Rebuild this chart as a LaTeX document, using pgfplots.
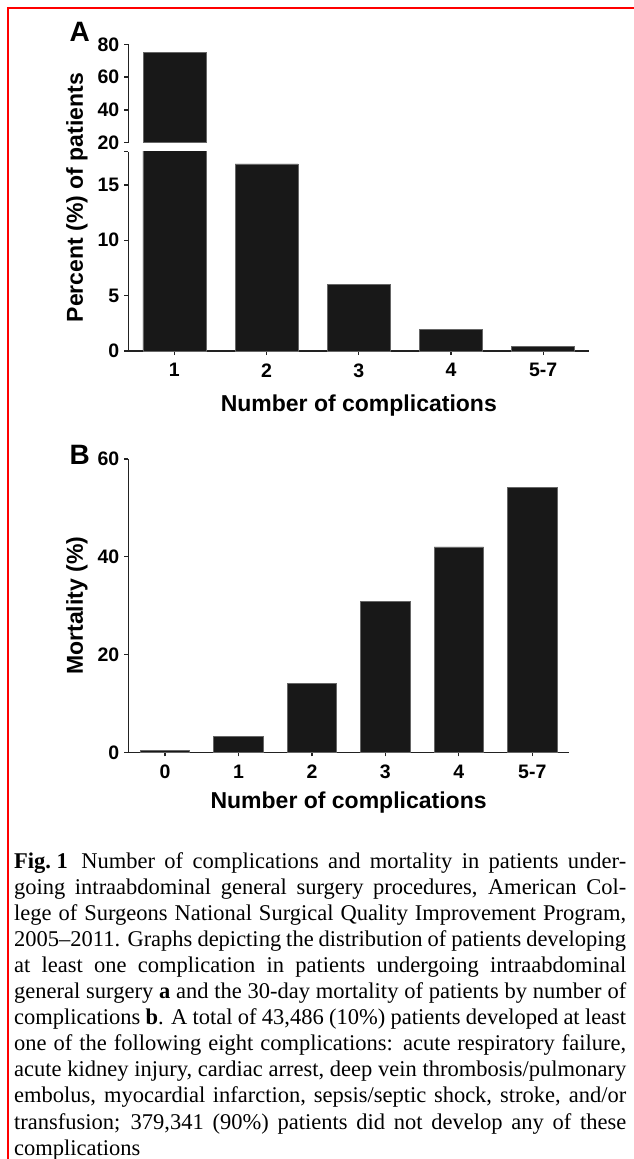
\documentclass[border=0pt]{standalone}
\usepackage{fontspec}
\setmainfont{Liberation Serif}
\newfontfamily\chartfont{Liberation Sans}
\usepackage{pgfplots}
\pgfplotsset{compat=1.18}
\definecolor{barfill}{HTML}{181818}
\definecolor{axcol}{HTML}{222222}
\newcommand\tickfont{\fontsize{19.5}{19.5}\selectfont\chartfont\bfseries}
\newcommand\labfont{\fontsize{23}{23}\selectfont\chartfont\bfseries}
\newcommand\panfont{\fontsize{28}{28}\selectfont\chartfont\bfseries}
\pgfplotsset{
  chartbase/.style={
    scale only axis,
    anchor=south west,
    axis line style={line width=1.25pt, axcol},
    x axis line style={-},
    y axis line style={-},
    tick style={line width=1.25pt, axcol},
    major tick length=4pt,
    tick align=outside,
    ticklabel style={font=\tickfont},
    xticklabel style={yshift=-5pt},
    yticklabel style={xshift=-1.5pt},
    /pgf/number format/assume math mode=true,
    ybar,
  },
  barstyle/.style={fill=barfill, draw=black!60, line width=0.6pt},
}
\begin{document}
\begin{tikzpicture}
\useasboundingbox (0pt,0pt) rectangle (634pt,-1159pt);
\draw[red, line width=2.2pt] (8.3pt,-1159pt) -- (8.3pt,-8.3pt) -- (634pt,-8.3pt);

% Panel A, lower part
\begin{axis}[chartbase, at={(128.3pt,-351pt)}, width=461pt, height=199.3pt,
  xmin=0.5, xmax=5.5, ymin=0, ymax=18,
  axis x line*=bottom, axis y line*=left,
  xtick={1,2,3,4,5}, xticklabels={1,2,3,4,5-7},
  ytick={0,5,10,15,18}, yticklabels={0,5,10,15,{}},
  bar width=63pt]
\addplot[barstyle] coordinates {(1,74.9) (2,16.9) (3,6.05) (4,1.95) (5,0.42)};
\end{axis}

% Panel A, upper part (only the first bar reaches above the break)
\begin{axis}[chartbase, at={(128.3pt,-142.7pt)}, width=461pt, height=98.4pt,
  xmin=0.5, xmax=5.5, ymin=20, ymax=80,
  axis x line=none, axis y line*=left,
  ytick={20,40,60,80}, yticklabels={20,40,60,80},
  bar width=63pt]
\addplot[barstyle] coordinates {(1,74.9)};
\end{axis}

% Panel B
\begin{axis}[chartbase, at={(128.3pt,-752.3pt)}, width=440.7pt, height=293.3pt,
  xmin=-0.5, xmax=5.5, ymin=0, ymax=60,
  axis x line*=bottom, axis y line*=left,
  xtick={0,1,2,3,4,5}, xticklabels={0,1,2,3,4,5-7},
  ytick={0,20,40,60}, yticklabels={0,20,40,60},
  bar width=49.5pt]
\addplot[barstyle] coordinates {(0,0.45) (1,3.2) (2,14.1) (3,30.9) (4,42.0) (5,54.2)};
\end{axis}

\node[font=\panfont] at (79.7pt,-31.5pt) {A};
\node[font=\panfont] at (79.7pt,-455pt) {B};
\node[font=\labfont, rotate=90] at (77pt,-197.6pt) {Percent (\%) of patients};
\node[font=\labfont, rotate=90] at (77pt,-605.6pt) {Mortality (\%)};
\node[font=\labfont] at (358.8pt,-406pt) {Number of complications};
\node[font=\labfont] at (348.6pt,-803pt) {Number of complications};

\node[anchor=north west, inner sep=0pt, text width=612pt, align=justify,
  font=\fontsize{22.5}{26.1}\selectfont] at (14pt,-852pt) {%
\tolerance=10000\hyphenpenalty=10000\exhyphenpenalty=10000%
\textbf{Fig.\nobreak\hskip0.25em 1}\nobreak\hskip0.6em Number of complications and mortality in patients under-\linebreak
going intraabdominal general surgery procedures, American Col-\linebreak
lege of Surgeons National Surgical Quality Improvement Program,\linebreak
2005--2011. Graphs depicting the distribution of patients developing\linebreak
at least one complication in patients undergoing intraabdominal\linebreak
general surgery \textbf{a} and the 30-day mortality of patients by number of\linebreak
complications \textbf{b}. A total of 43,486 (10\%) patients developed at least\linebreak
one of the following eight complications: acute respiratory failure,\linebreak
acute kidney injury, cardiac arrest, deep vein thrombosis/pulmonary\linebreak
embolus, myocardial infarction, sepsis/septic shock, stroke, and/or\linebreak
transfusion; 379,341 (90\%) patients did not develop any of these\linebreak
complications};
\end{tikzpicture}
\end{document}
